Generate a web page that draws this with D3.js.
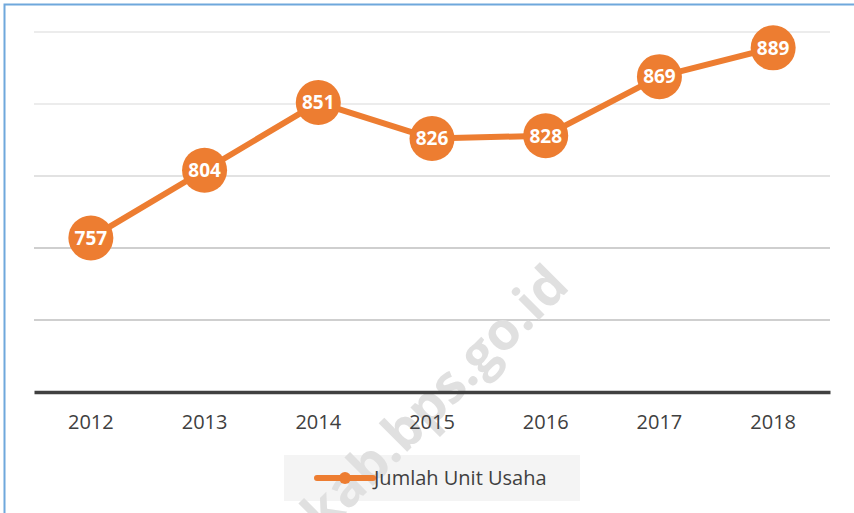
<!DOCTYPE html>
<html>
<head>
<meta charset="utf-8">
<script src="https://cdn.jsdelivr.net/npm/d3@7"></script>
<style>
  html, body { margin: 0; padding: 0; background: #fff; }
  svg { display: block; }
</style>
</head>
<body>
<svg id="chart"></svg>
<script>
(function () {
    // Data
    const years = ['2012', '2013', '2014', '2015', '2016', '2017', '2018'];
    const units = [757, 804, 851, 826, 828, 869, 889];
    const gridTicks = [700, 750, 800, 850, 900];
    const seriesName = 'Jumlah Unit Usaha';

    const W = 854, H = 513;
    const orange = '#ed7d31';
    const font = "'Open Sans', 'Liberation Sans', sans-serif";

    const svg = d3.select('#chart').attr('width', W).attr('height', H);

    // Outer frame (only top and left edges show in the picture)
    svg.append('rect')
        .attr('x', 4.5).attr('y', 4.5)
        .attr('width', W + 10).attr('height', H + 10)
        .attr('fill', '#fff')
        .attr('stroke', '#6fa8dc')
        .attr('stroke-width', 2);

    const left = 34, right = 830, top = 32, bottom = 392;

    const x = d3.scaleBand().domain(years).range([left, right]);
    const y = d3.scaleLinear().domain([650, 900]).range([bottom, top]);

    // Gridlines (lower ones look a bit darker in the picture)
    const gridColor = d => d >= 850 ? '#e6e6e6' : d >= 800 ? '#d9d9d9' : '#bfbfbf';
    svg.append('g')
        .selectAll('line')
        .data(gridTicks)
        .join('line')
        .attr('x1', left).attr('x2', right)
        .attr('y1', d => y(d)).attr('y2', d => y(d))
        .attr('stroke', gridColor)
        .attr('stroke-width', 1.5);

    // Legend box (under the watermark)
    svg.append('rect')
        .attr('x', 284).attr('y', 455)
        .attr('width', 296).attr('height', 46)
        .attr('fill', '#f4f4f4');

    // Watermark
    svg.append('text')
        .attr('transform', 'translate(324,535) rotate(-45)')
        .attr('font-family', font)
        .attr('font-weight', 'bold')
        .attr('font-size', 53)
        .attr('fill', '#e0e0e0')
        .text('kab.bps.go.id');

    // X axis
    const xAxis = svg.append('g')
        .attr('transform', `translate(0,${bottom})`)
        .call(d3.axisBottom(x).tickSize(0).tickPadding(23));
    xAxis.select('.domain')
        .attr('stroke', '#404040')
        .attr('stroke-width', 3.5);
    xAxis.selectAll('text')
        .attr('font-family', font)
        .attr('font-size', 20)
        .attr('fill', '#404040');

    const cx = (d, i) => x(years[i]) + x.bandwidth() / 2;

    // Line
    const line = d3.line()
        .x((d, i) => cx(d, i))
        .y(d => y(d));
    svg.append('path')
        .datum(units)
        .attr('d', line)
        .attr('fill', 'none')
        .attr('stroke', orange)
        .attr('stroke-width', 6)
        .attr('stroke-linejoin', 'round');

    // Markers with labels
    const pts = svg.append('g')
        .selectAll('g')
        .data(units)
        .join('g')
        .attr('transform', (d, i) => `translate(${cx(d, i)},${y(d)})`);
    pts.append('circle')
        .attr('r', 22.5)
        .attr('fill', orange);
    pts.append('text')
        .attr('text-anchor', 'middle')
        .attr('dy', '0.36em')
        .attr('font-family', font)
        .attr('font-weight', 'bold')
        .attr('font-size', 19)
        .attr('fill', '#fff')
        .text(d => d);

    // Legend entry (on top of the watermark)
    const lg = svg.append('g').attr('transform', 'translate(284,455)');
    lg.append('line')
        .attr('x1', 33).attr('x2', 89)
        .attr('y1', 23).attr('y2', 23)
        .attr('stroke', orange)
        .attr('stroke-width', 6)
        .attr('stroke-linecap', 'round');
    lg.append('circle')
        .attr('cx', 61).attr('cy', 23).attr('r', 6)
        .attr('fill', orange);
    lg.append('text')
        .attr('x', 90).attr('y', 23)
        .attr('dy', '0.36em')
        .attr('font-family', font)
        .attr('font-size', 20)
        .attr('fill', '#404040')
        .text(seriesName);
})();
</script>
</body>
</html>
